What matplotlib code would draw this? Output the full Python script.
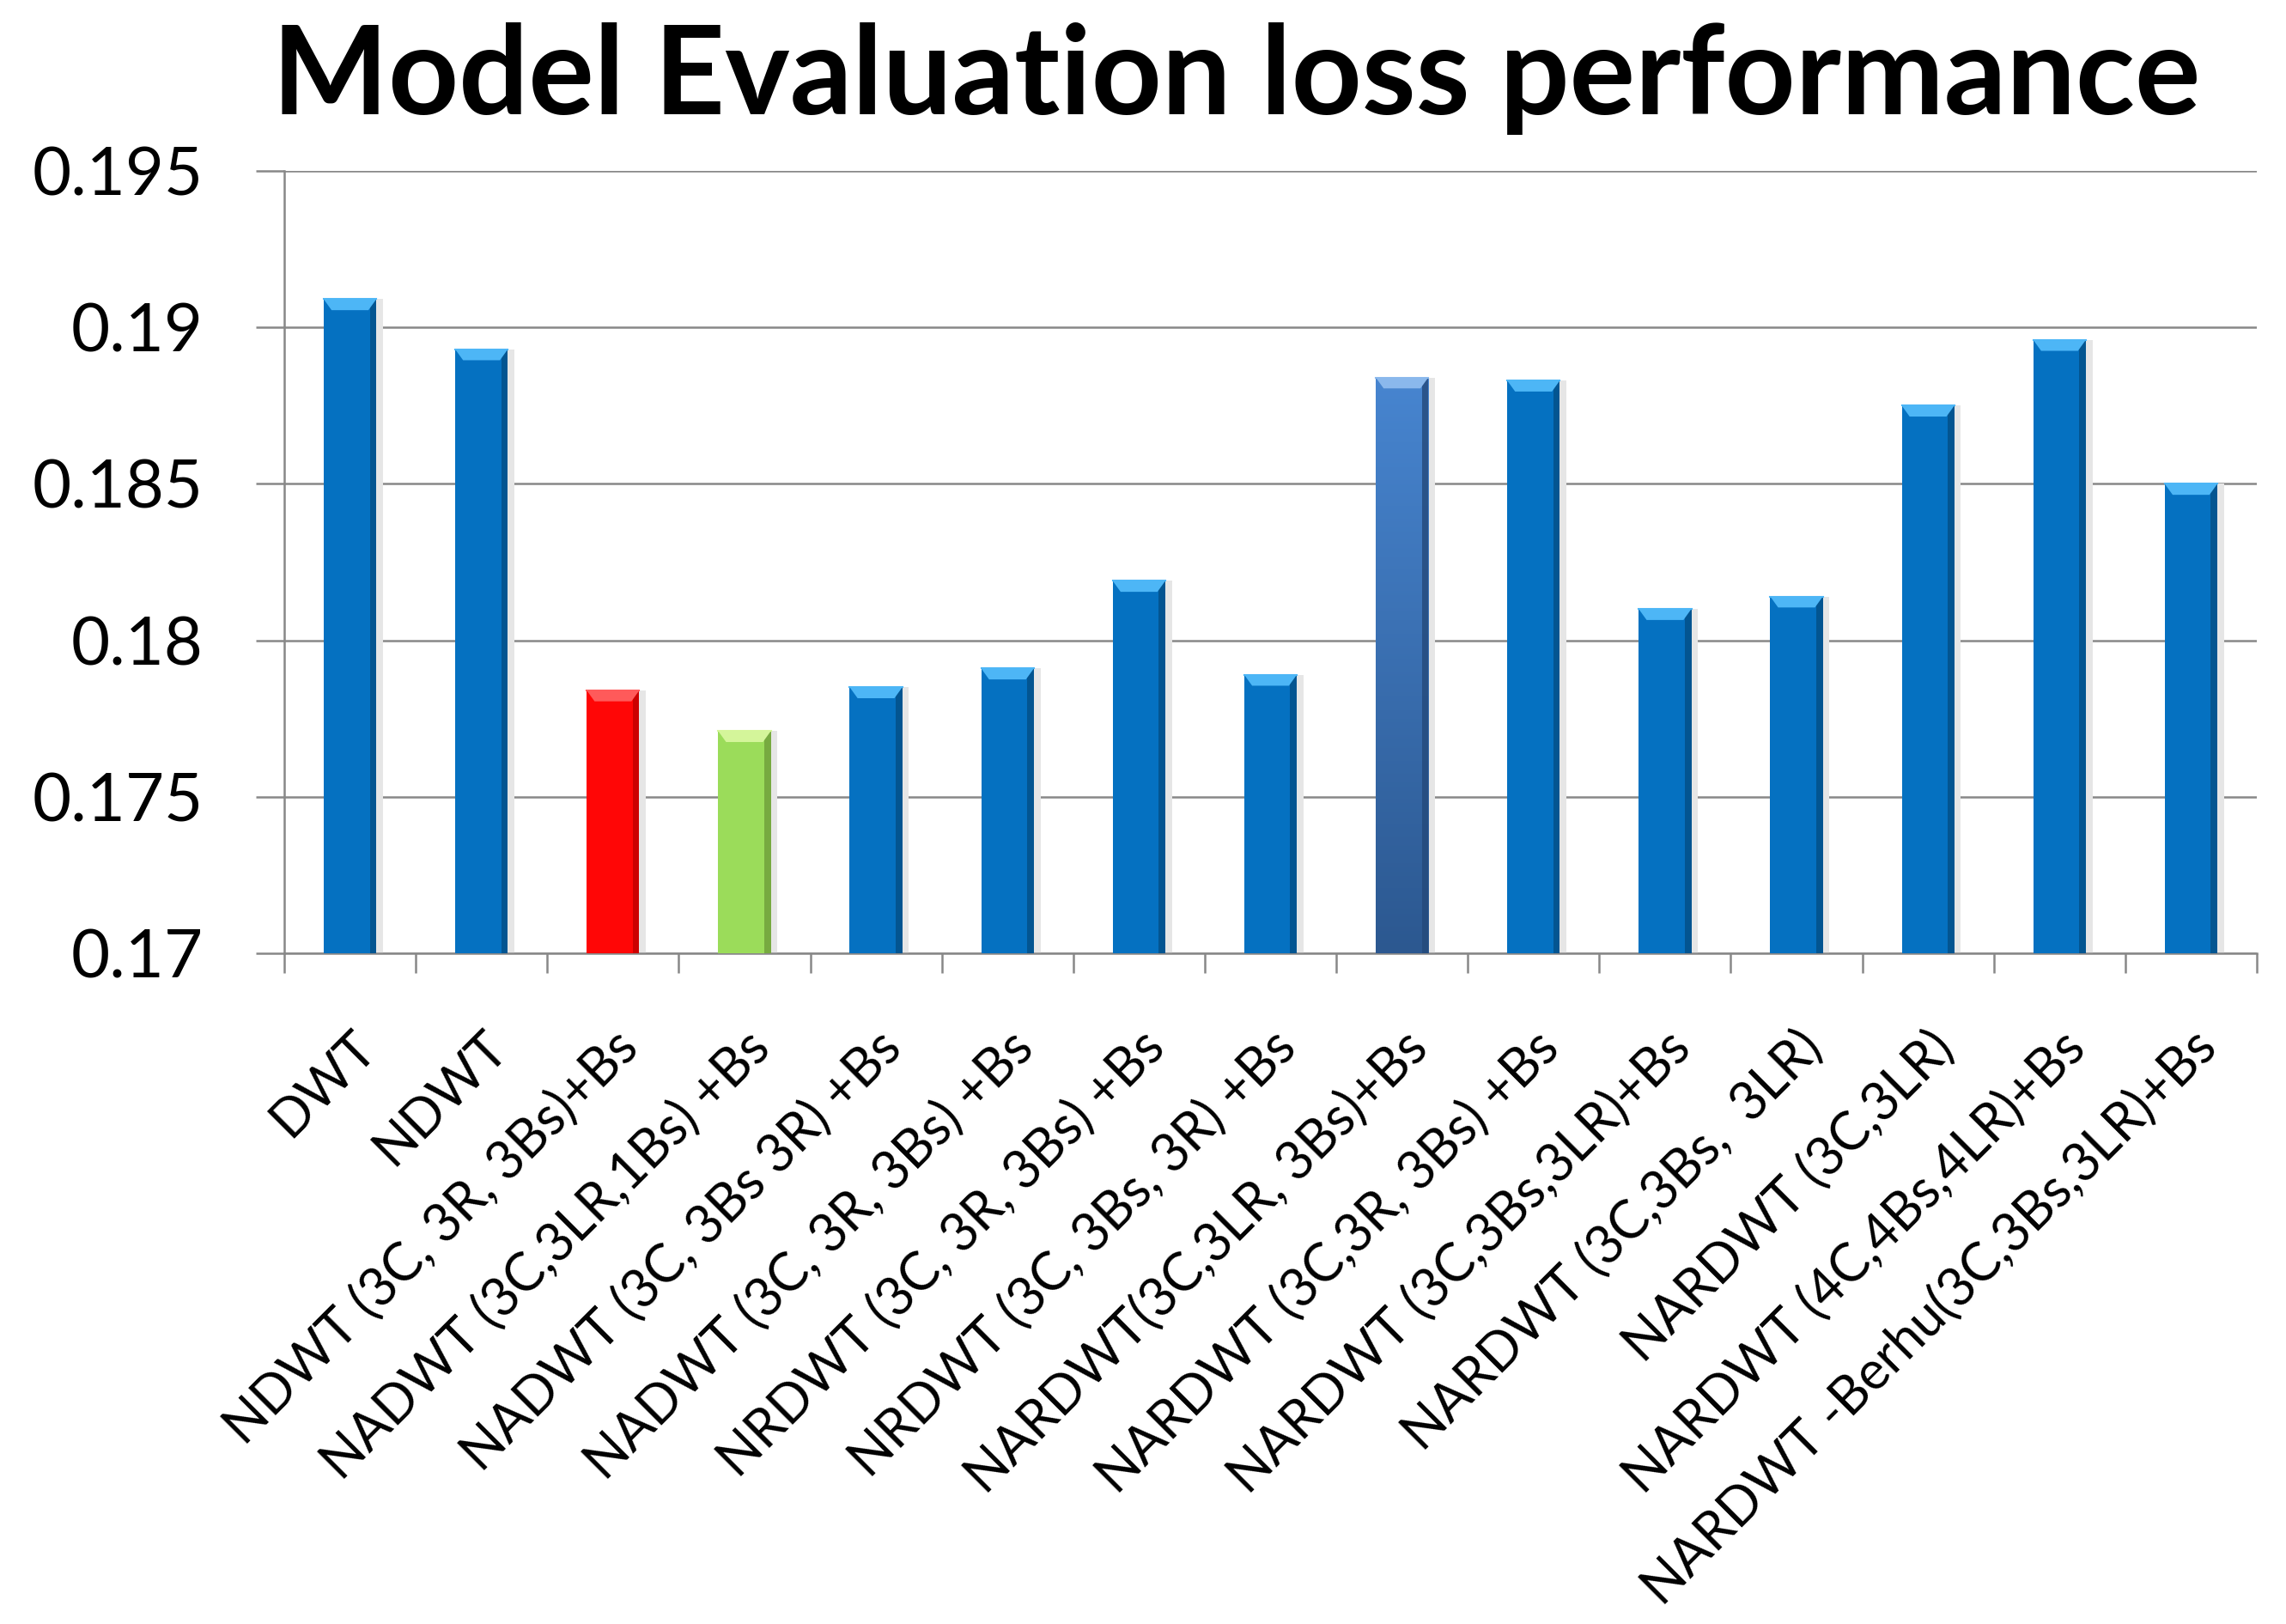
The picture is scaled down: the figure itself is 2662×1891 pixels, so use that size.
import numpy as np
import matplotlib
matplotlib.use("Agg")
import matplotlib.pyplot as plt
from matplotlib.patches import Polygon
from matplotlib.colors import LinearSegmentedColormap

###############################################################################
# Data
models = [
    "DWT",
    "NDWT",
    "NDWT (3C, 3R, 3Bs)+Bs",
    "NADWT (3C,3LR,1Bs) +Bs",
    "NADWT (3C, 3Bs 3R) +Bs",
    "NADWT (3C, 3R, 3Bs) +Bs",
    "NRDWT (3C, 3R, 3Bs) +Bs",
    "NRDWT (3C, 3Bs, 3R) +Bs",
    "NARDWT(3C,3LR, 3Bs)+Bs",
    "NARDWT (3C,3R, 3Bs) +Bs",
    "NARDWT (3C,3Bs,3LR)+Bs",
    "NARDWT (3C,3Bs,  3LR)",
    "NARDWT (3C,3LR)",
    "NARDWT (4C,4Bs,4LR)+Bs",
    "NARDWT -Berhu(3C,3Bs,3LR)+Bs",
]
loss = [0.1909, 0.1893, 0.1784, 0.1771, 0.1785, 0.1791, 0.1819, 0.1789,
        0.1884, 0.1883, 0.1810, 0.1814, 0.1875, 0.1896, 0.1850]
yticks = [0.17, 0.175, 0.18, 0.185, 0.19, 0.195]
ytick_labels = ["0.17", "0.175", "0.18", "0.185", "0.19", "0.195"]

# styling (not data)
fill = ["#0571C1"] * len(loss)
cap = ["#4DB6F6"] * len(loss)
edge = ["#034E86"] * len(loss)
fill[2], cap[2], edge[2] = "#FF0606", "#FF5A5A", "#C00000"
fill[3], cap[3], edge[3] = "#9BDC5A", "#D4F59A", "#6E9E3A"
fill[8], cap[8], edge[8] = "#3F76BC", "#8AB8EC", "#24497A"
grey = "#888888"

W, H = 2662, 1891
fig = plt.figure(figsize=(W / 100, H / 100), dpi=100)
ax = fig.add_axes([331 / W, 1 - 1110 / H, (2628 - 331) / W, (1110 - 199) / H])

ymin, ymax = 0.17, 0.195
x = np.arange(len(loss))
bw = 0.40

ax.bar(x + 0.05, np.array(loss) - ymin, bw, bottom=ymin, color="#E6E6E6",
       zorder=2, linewidth=0)
bars = ax.bar(x, np.array(loss) - ymin, bw, bottom=ymin, color=fill,
              zorder=3, linewidth=0)

# gradient for the highlighted (ninth) bar
grad = LinearSegmentedColormap.from_list("g", ["#2C5890", "#4785D0"])
b9 = bars[8]
im = ax.imshow(np.linspace(0, 1, 256).reshape(-1, 1), cmap=grad, origin="lower",
               extent=[b9.get_x(), b9.get_x() + bw, ymin, loss[8]],
               aspect="auto", zorder=3.5)
im.set_clip_path(b9)

# bevel: dark right edge and light top cap
ax.bar(x + bw / 2 - 0.025, np.array(loss) - ymin, 0.05, bottom=ymin,
       color=edge, zorder=4, linewidth=0, alpha=0.8)
ch = 0.00035
for xi, v, c in zip(x, loss, cap):
    poly = Polygon([(xi - bw / 2, v), (xi + bw / 2, v),
                    (xi + bw / 2 - 0.06, v - ch), (xi - bw / 2 + 0.06, v - ch)],
                   closed=True, facecolor=c, edgecolor="none", zorder=5)
    ax.add_patch(poly)
    ax.plot([xi - bw / 2, xi + bw / 2], [v, v], color=c, lw=1.5, zorder=5)

ax.set_xlim(-0.5, len(loss) - 0.5)
ax.set_ylim(ymin, ymax)

ax.set_yticks(yticks)
ax.set_yticklabels(ytick_labels, fontsize=56, family="Lato")
ax.tick_params(axis="y", length=23.8, width=1.8, color=grey, pad=44)
ax.yaxis.grid(True, color=grey, linewidth=1.8)
ax.set_axisbelow(True)

ax.set_xticks(x)
ax.set_xticklabels(models, rotation=45, ha="right", va="top",
                   rotation_mode="anchor", fontsize=44, family="Lato")
ax.set_xticks(np.arange(len(loss) + 1) - 0.5, minor=True)
ax.tick_params(axis="x", which="major", length=0, pad=58)
ax.tick_params(axis="x", which="minor", length=16.6, width=1.8, color=grey)

for s in ["top", "right"]:
    ax.spines[s].set_visible(False)
for s in ["left", "bottom"]:
    ax.spines[s].set_color(grey)
    ax.spines[s].set_linewidth(1.8)

fig.text(1440 / W, 1 - 133 / H, "Model Evaluation loss performance",
         ha="center", va="baseline", fontsize=103, fontweight="bold",
         family="Lato")

fig.savefig("out.png", dpi=100, facecolor="white")
